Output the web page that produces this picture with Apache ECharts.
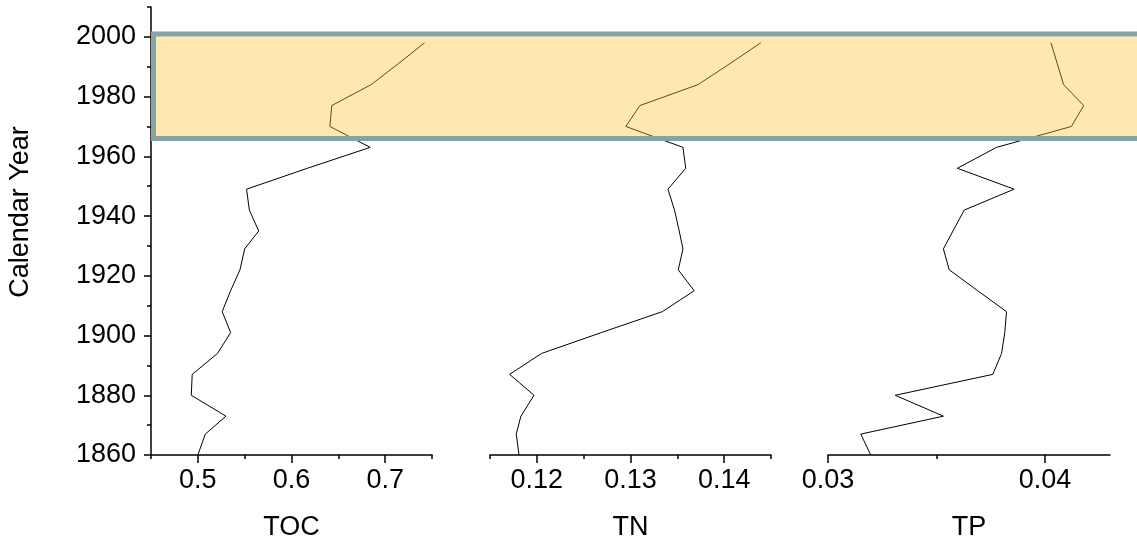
<!DOCTYPE html>
<html>
<head>
<meta charset="utf-8">
<style>
  html, body { margin: 0; padding: 0; background: #fff; }
  #chart { width: 1137px; height: 540px; }
</style>
<script src="https://cdn.jsdelivr.net/npm/echarts@6/dist/echarts.min.js"></script>
</head>
<body>
<div id="chart"></div>
<script>
// Sediment core profiles: sample ages (calendar year) and concentrations
const years = [1860, 1867, 1873, 1880, 1887, 1894, 1901, 1908, 1915, 1922, 1929,
               1935, 1942, 1949, 1956, 1963, 1970, 1977, 1984, 1991, 1998];
const toc = [0.500, 0.508, 0.530, 0.493, 0.494, 0.521, 0.535, 0.526, 0.535, 0.545, 0.550,
             0.565, 0.555, 0.552, 0.617, 0.684, 0.641, 0.643, 0.685, 0.714, 0.742];
const tn = [0.1181, 0.1178, 0.1183, 0.1197, 0.1171, 0.1205, 0.1269, 0.1334, 0.1368, 0.1351, 0.1356,
            0.1352, 0.1347, 0.1340, 0.1359, 0.1356, 0.1295, 0.1310, 0.1372, 0.1406, 0.1439];
const tp = [0.03197, 0.03151, 0.03532, 0.03310, 0.03760, 0.03800, 0.03815, 0.03823, 0.03690, 0.03559, 0.03532,
            0.03576, 0.03628, 0.03858, 0.03596, 0.03777, 0.04122, 0.04179, 0.04086, 0.04057, 0.04028];

const panelNames = ['TOC', 'TN', 'TP'];
const panelRanges = [[0.45, 0.75], [0.115, 0.145], [0.03, 0.043]];
const majorTicks = [[0.5, 0.6, 0.7], [0.12, 0.13, 0.14], [0.03, 0.04]];
const minorTicks = [[0.45, 0.55, 0.65, 0.75], [0.115, 0.125, 0.135, 0.145], [0.035]];
const yearRange = [1860, 2010];
const yearLabels = [1860, 1880, 1900, 1920, 1940, 1960, 1980, 2000];
const yearMinor = [1870, 1890, 1910, 1930, 1950, 1970, 1990, 2010];
const highlightYears = [1966, 2001];

const FONT = 'Liberation Sans, Arial, sans-serif';
const FS = 27;
const AXIS_COLOR = '#000';

const chart = echarts.init(document.getElementById('chart'), null, { renderer: 'canvas' });

const grids = [
  { left: 151, width: 281, top: 7, bottom: 85, containLabel: false, outerBoundsMode: 'none' },
  { left: 490, width: 281, top: 7, bottom: 85, containLabel: false, outerBoundsMode: 'none' },
  { left: 828, width: 282, top: 7, bottom: 85, containLabel: false, outerBoundsMode: 'none' }
];

const xAxes = [];
const yAxes = [];
const series = [];
const values = [toc, tn, tp];

panelNames.forEach((name, i) => {
  // labelled axis with long ticks
  xAxes.push({
    type: 'value', gridIndex: i, position: 'bottom',
    min: panelRanges[i][0], max: panelRanges[i][1],
    name: name, nameLocation: 'middle', nameGap: 59,
    nameTextStyle: { fontFamily: FONT, fontSize: FS, color: '#000' },
    axisLine: { show: true, lineStyle: { color: AXIS_COLOR, width: 1.5 } },
    axisTick: { show: true, inside: false, length: 8, customValues: majorTicks[i],
                lineStyle: { color: AXIS_COLOR, width: 1.5 } },
    axisLabel: { show: true, customValues: majorTicks[i], margin: 12,
                 fontFamily: FONT, fontSize: FS, color: '#000',
                 formatter: v => String(+v.toFixed(4)) },
    splitLine: { show: false }
  });
  // short minor ticks on the same baseline
  xAxes.push({
    type: 'value', gridIndex: i, position: 'bottom',
    min: panelRanges[i][0], max: panelRanges[i][1],
    axisLine: { show: false },
    axisTick: { show: true, inside: false, length: 4, customValues: minorTicks[i],
                lineStyle: { color: AXIS_COLOR, width: 1.5 } },
    axisLabel: { show: false },
    splitLine: { show: false }
  });
  yAxes.push({
    type: 'value', gridIndex: i, position: 'left',
    min: yearRange[0], max: yearRange[1],
    show: i === 0,
    axisLine: { show: true, lineStyle: { color: AXIS_COLOR, width: 1.5 } },
    axisTick: { show: true, length: 7, customValues: yearLabels,
                lineStyle: { color: AXIS_COLOR, width: 1.5 } },
    axisLabel: { show: true, customValues: yearLabels, margin: 15,
                 fontFamily: FONT, fontSize: FS, color: '#000',
                 formatter: v => String(v) },
    splitLine: { show: false }
  });
  series.push({
    type: 'line', name: name,
    xAxisIndex: i * 2, yAxisIndex: i === 0 ? 0 : i + 1,
    data: years.map((yr, k) => [values[i][k], yr]),
    symbol: 'none', smooth: false,
    lineStyle: { color: '#000', width: 1 },
    z: 2
  });
});

// minor year ticks on the main year axis
yAxes.splice(1, 0, {
  type: 'value', gridIndex: 0, position: 'left',
  min: yearRange[0], max: yearRange[1],
  axisLine: { show: false },
  axisTick: { show: true, length: 4, customValues: yearMinor,
              lineStyle: { color: AXIS_COLOR, width: 1.5 } },
  axisLabel: { show: false },
  splitLine: { show: false }
});

chart.setOption({
  animation: false,
  backgroundColor: '#fff',
  grid: grids,
  xAxis: xAxes,
  yAxis: yAxes,
  series: series
});

// axis title and shaded period band spanning all three panels
const bandTop = chart.convertToPixel({ yAxisIndex: 0 }, highlightYears[1]);
const bandBottom = chart.convertToPixel({ yAxisIndex: 0 }, highlightYears[0]);
const bandLeft = chart.convertToPixel({ xAxisIndex: 0 }, panelRanges[0][0]) + 2.5;
chart.setOption({
  graphic: [{
    type: 'text', x: 21, y: 212, rotation: Math.PI / 2,
    style: { text: 'Calendar Year', fontFamily: FONT, fontSize: FS, fill: '#000',
             align: 'center', verticalAlign: 'middle' }
  }, {
    type: 'rect', z: 100,
    shape: { x: bandLeft, y: bandTop, width: chart.getWidth() - bandLeft + 10, height: bandBottom - bandTop },
    style: { fill: 'rgba(255,195,47,0.38)', stroke: '#87A3A3', lineWidth: 5 }
  }]
});
</script>
</body>
</html>
